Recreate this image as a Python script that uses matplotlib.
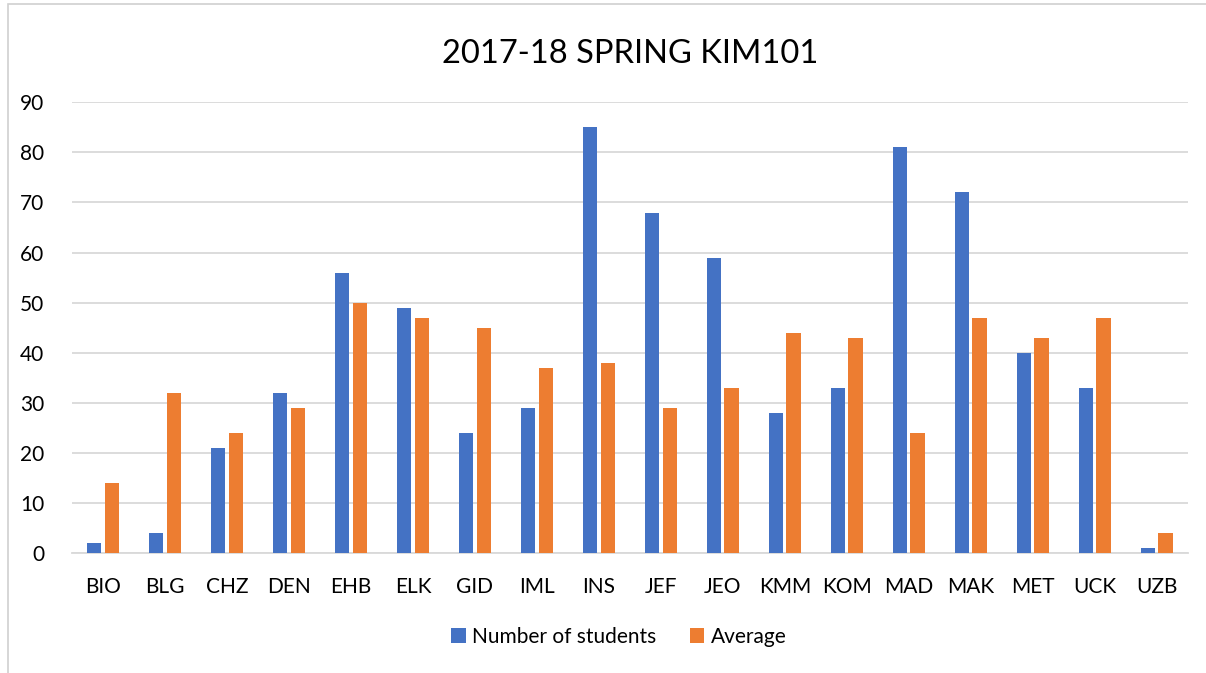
import matplotlib.pyplot as plt
import matplotlib.patches as patches
import numpy as np

plt.rcParams['font.family'] = ['Lato', 'DejaVu Sans']

categories = ['BIO', 'BLG', 'CHZ', 'DEN', 'EHB', 'ELK', 'GID', 'IML', 'INS',
              'JEF', 'JEO', 'KMM', 'KOM', 'MAD', 'MAK', 'MET', 'UCK', 'UZB']
students = [2, 4, 21, 32, 56, 49, 24, 29, 85, 68, 59, 28, 33, 81, 72, 40, 33, 1]
average = [14, 32, 24, 29, 50, 47, 45, 37, 38, 29, 33, 44, 43, 24, 47, 43, 47, 4]

blue = '#4472c4'
orange = '#ed7d31'
grid = '#d9d9d9'

fig = plt.figure(figsize=(12.06, 6.73), dpi=100)
ax = fig.add_axes([0.0597, 0.178, 0.9253, 0.670])

x = np.arange(len(categories))
w = 0.23
ax.bar(x - w / 2 - 0.025, students, width=w, color=blue, label='Number of students', zorder=3)
ax.bar(x + w / 2 + 0.025, average, width=w, color=orange, label='Average', zorder=3)

ax.set_xlim(-0.5, len(categories) - 0.5)
ax.set_ylim(0, 90)
ax.set_yticks(range(0, 91, 10))
ax.set_xticks(x)
ax.set_xticklabels(categories)
ax.yaxis.grid(True, color=grid, linewidth=1.3, zorder=0)
for s in ['top', 'right', 'left']:
    ax.spines[s].set_visible(False)
ax.spines['bottom'].set_color(grid)
ax.spines['bottom'].set_linewidth(1.3)
ax.tick_params(axis='both', length=0, labelsize=15, colors='#000000')
ax.tick_params(axis='y', pad=20)
ax.tick_params(axis='x', pad=17)

ax.set_title('2017-18 SPRING KIM101', fontsize=23.5, pad=28)

ax.legend(loc='upper center', bbox_to_anchor=(0.49, -0.122), ncol=2, frameon=False,
          fontsize=15, handlelength=0.7, handleheight=0.7, columnspacing=1.6,
          handletextpad=0.3)

# outer chart border
fig.patches.append(patches.Rectangle((8 / 1206, -0.1), 1.2, 1.1 - 4 / 673,
                                     transform=fig.transFigure, fill=False,
                                     edgecolor='#d0d0d0', linewidth=1.2))

fig.savefig('out.png', dpi=100)
